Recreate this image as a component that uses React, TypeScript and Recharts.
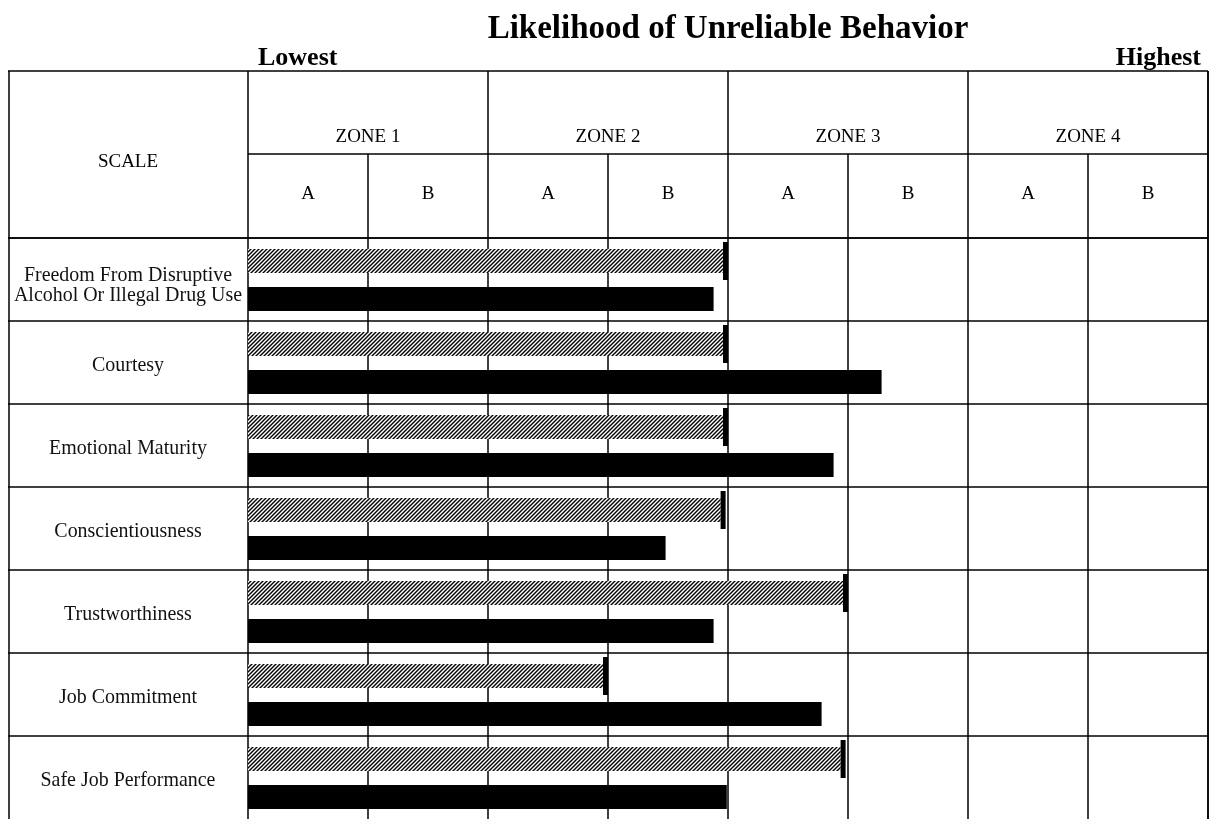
import React from 'react';
import { BarChart, Bar, XAxis, YAxis, CartesianGrid } from 'recharts';

// Scales (rows), top to bottom
const scales = [
  'Freedom From Disruptive\nAlcohol Or Illegal Drug Use',
  'Courtesy',
  'Emotional Maturity',
  'Conscientiousness',
  'Trustworthiness',
  'Job Commitment',
  'Safe Job Performance',
];

// Header labels
const zoneNames = ['ZONE 1', 'ZONE 2', 'ZONE 3', 'ZONE 4'];
const subLabels = ['A', 'B', 'A', 'B', 'A', 'B', 'A', 'B'];
// integer ticks = column edges, half ticks = column centres
const headerTicks = [0, 0.5, 1, 1.5, 2, 2.5, 3, 3.5, 4, 4.5, 5, 5.5, 6, 6.5, 7, 7.5, 8];
const columnEdges = [0, 1, 2, 3, 4, 5, 6, 7, 8];

// Values in column units (0 = Lowest, 8 = Highest)
const hatchedValues = [4.0, 4.0, 4.0, 3.98, 5.0, 3.0, 4.98];
const solidValues = [3.88, 5.28, 4.88, 3.48, 3.88, 4.78, 3.99];

const data = scales.map((scale, i) => ({
  scale,
  hatched: hatchedValues[i],
  solid: solidValues[i],
}));

const FONT = '"Liberation Serif", "Times New Roman", serif';
const LINE_W = 1.5;
const W = 1203;
const H = 811;
const TABLE_TOP = 63;
const MID_Y = 146;
const HEAD_BOTTOM = 230;
const LABEL_W = 240;
const PLOT_RIGHT = 1200;
const DOMAIN_MAX = 8;
const ROW_H = (H - HEAD_BOTTOM) / scales.length;

// eslint-disable-next-line @typescript-eslint/no-explicit-any
const HeaderTick = ({ x, payload }: any) => {
  const v = payload.value;
  if (Number.isInteger(v)) {
    const zoneEdge = v % 2 === 0;
    return (
      <g>
        <line x1={x} x2={x} y1={zoneEdge ? TABLE_TOP : MID_Y} y2={HEAD_BOTTOM} stroke="#000" strokeWidth={LINE_W} />
        {!zoneEdge && (
          <text x={x} y={134} textAnchor="middle" fontFamily={FONT} fontSize={19} fill="#000">
            {zoneNames[(v - 1) / 2]}
          </text>
        )}
      </g>
    );
  }
  return (
    <text x={x} y={191} textAnchor="middle" fontFamily={FONT} fontSize={19} fill="#000">
      {subLabels[Math.floor(v)]}
    </text>
  );
};

// eslint-disable-next-line @typescript-eslint/no-explicit-any
const ScaleTick = ({ y, payload }: any) => {
  const lines = String(payload.value).split('\n');
  const top = y - ROW_H / 2;
  return (
    <g>
      <line x1={0} x2={LABEL_W} y1={top} y2={top} stroke="#000" strokeWidth={LINE_W} />
      <g transform={`translate(${LABEL_W / 2}, ${y}) scale(0.95, 1)`}>
        {lines.map((ln, i) => (
          <text
            key={i}
            x={0}
            y={lines.length === 1 ? 8 : i * 21 + 1}
            textAnchor="middle"
            fontFamily={FONT}
            fontSize={21}
            fill="#111"
          >
            {ln}
          </text>
        ))}
      </g>
    </g>
  );
};

// eslint-disable-next-line @typescript-eslint/no-explicit-any
const HatchedBar = (props: any) => {
  const { x, y, width, height } = props;
  return (
    <g>
      <rect x={x} y={y} width={Math.max(width - 5, 0)} height={height} fill="url(#hatch)" />
      <rect x={x + width - 5} y={y - 7} width={5} height={height + 14} fill="#000" />
    </g>
  );
};

export default function App() {
  return (
    // fixed so the chart reaching the window bottom does not add a scrollbar
    <div style={{ position: 'fixed', left: 8, top: 8, width: W, height: H }}>
      <BarChart
        width={W}
        height={H}
        data={data}
        layout="vertical"
        margin={{ top: TABLE_TOP, right: W - PLOT_RIGHT, bottom: 0, left: 0 }}
        barSize={24}
        barGap={14}
      >
        <defs>
          <pattern id="hatch" patternUnits="userSpaceOnUse" width={4} height={4}>
            <rect width={4} height={4} fill="#fff" />
            <path d="M-1,1 L1,-1 M0,4 L4,0 M3,5 L5,3" stroke="#000" strokeWidth={1.4} />
          </pattern>
        </defs>

        <CartesianGrid
          stroke="#000"
          strokeWidth={LINE_W}
          // eslint-disable-next-line @typescript-eslint/no-explicit-any
          verticalCoordinatesGenerator={({ offset }: any) =>
            columnEdges.map((t) => offset.left + (t / DOMAIN_MAX) * offset.width)
          }
          // eslint-disable-next-line @typescript-eslint/no-explicit-any
          horizontalCoordinatesGenerator={({ offset }: any) =>
            scales.map((_, i) => offset.top + (i * offset.height) / scales.length)
          }
        />

        <XAxis
          type="number"
          orientation="top"
          domain={[0, DOMAIN_MAX]}
          ticks={headerTicks}
          interval={0}
          height={HEAD_BOTTOM - TABLE_TOP}
          axisLine={false}
          tickLine={false}
          tick={<HeaderTick />}
        />
        <YAxis
          type="category"
          dataKey="scale"
          width={LABEL_W}
          interval={0}
          axisLine={false}
          tickLine={false}
          tick={<ScaleTick />}
        />

        <Bar dataKey="hatched" shape={<HatchedBar />} isAnimationActive={false} />
        <Bar dataKey="solid" fill="#000" isAnimationActive={false} />

        {/* table frame and titles */}
        <g>
          <line x1={0} x2={PLOT_RIGHT} y1={TABLE_TOP} y2={TABLE_TOP} stroke="#000" strokeWidth={LINE_W} />
          <line x1={LABEL_W} x2={PLOT_RIGHT} y1={MID_Y} y2={MID_Y} stroke="#000" strokeWidth={LINE_W} />
          <line x1={0} x2={PLOT_RIGHT} y1={HEAD_BOTTOM} y2={HEAD_BOTTOM} stroke="#000" strokeWidth={LINE_W} />
          <line x1={1} x2={1} y1={TABLE_TOP} y2={H} stroke="#000" strokeWidth={LINE_W} />
          <line x1={PLOT_RIGHT} x2={PLOT_RIGHT} y1={TABLE_TOP} y2={H} stroke="#000" strokeWidth={LINE_W} />
          <text x={LABEL_W / 2} y={159} textAnchor="middle" fontFamily={FONT} fontSize={19} fill="#000">
            SCALE
          </text>
          <text
            x={(LABEL_W + PLOT_RIGHT) / 2}
            y={30}
            textAnchor="middle"
            fontFamily={FONT}
            fontSize={33}
            fontWeight="bold"
            fill="#000"
          >
            Likelihood of Unreliable Behavior
          </text>
          <text x={LABEL_W + 10} y={57} fontFamily={FONT} fontSize={26} fontWeight="bold" fill="#000">
            Lowest
          </text>
          <text x={PLOT_RIGHT - 7} y={57} textAnchor="end" fontFamily={FONT} fontSize={26} fontWeight="bold" fill="#000">
            Highest
          </text>
        </g>
      </BarChart>
    </div>
  );
}
